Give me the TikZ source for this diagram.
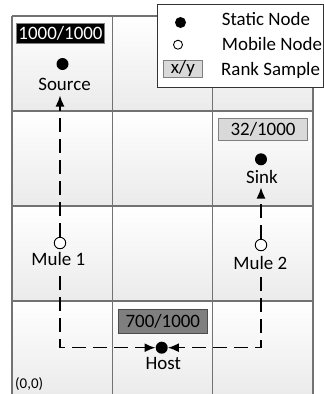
\documentclass[tikz,border=0pt]{standalone}
\usepackage{fontspec}
\setmainfont{Carlito}
\usetikzlibrary{arrows.meta}
\definecolor{gridc}{HTML}{727272}
\definecolor{boxlight}{HTML}{D9D9D9}
\definecolor{boxdark}{HTML}{7F7F7F}
\begin{document}
\begin{tikzpicture}[x=1bp,y=-1bp,
  lbl/.style={font=\fontsize{19}{22}\selectfont, inner sep=0pt},
  small/.style={font=\fontsize{15}{18}\selectfont, inner sep=0pt},
  gridline/.style={draw=gridc, line width=1.3bp},
  dot/.style={circle, fill=black, minimum size=12bp, inner sep=0pt},
  mule/.style={circle, draw=black, fill=white, line width=0.9bp, minimum size=11.5bp, inner sep=0pt},
  rank/.style={rectangle, line width=0.8bp, inner sep=0pt, font=\fontsize{19}{22}\selectfont},
  flow/.style={draw=black, line width=1.5bp, dash pattern=on 14bp off 7bp, -{Latex[length=11bp,width=9bp]}}
]
\useasboundingbox (0,0) rectangle (324,394);
% cells
\def\xs{{12,112.3,212.7,313}}
\def\ys{{16,111,206,301,396}}
\foreach \i in {0,1,2}{
  \foreach \j in {0,1,2,3}{
    \pgfmathsetmacro\xa{\xs[\i]}
    \pgfmathsetmacro\xb{\xs[\i+1]}
    \pgfmathsetmacro\ya{\ys[\j]}
    \pgfmathsetmacro\yb{\ys[\j+1]}
    \shade[top color=white, bottom color=black!8] (\xa,\ya) rectangle (\xb,\yb);
  }
}
% grid lines
\foreach \x in {12,112.3,212.7,313}{\draw[gridline] (\x,16) -- (\x,396);}
\foreach \y in {16,111,206,301}{\draw[gridline] (12,\y) -- (313,\y);}
% legend
\node[draw=black!80, fill=white, line width=0.8bp, minimum width=166.6bp, minimum height=83.3bp, anchor=north west, inner sep=0pt] (legend) at (156.7,4) {};
\node[dot, minimum size=11bp] (ldot) at (180.5,22.5) {};
\node[mule, minimum size=9bp] (lmule) at (178,44.7) {};
\node[rank, fill=boxlight, draw=boxdark, minimum width=39bp, minimum height=17.7bp] (lrank) at (182.8,68.8) {x/y};
\node[lbl, anchor=base west] (lt1) at (221.7,25) {Static Node};
\node[lbl, anchor=base west] (lt2) at (221.7,50) {Mobile Node};
\node[lbl, anchor=base west] (lt3) at (221,75) {Rank Sample};
% rank boxes
\node[rank, fill=black, draw=gray, text=white, minimum width=87.6bp, minimum height=20bp] (r1) at (60.5,33.3) {1000/1000};
\node[rank, fill=boxlight, draw=boxdark, minimum width=89.4bp, minimum height=22.4bp] (r2) at (263,129.5) {32/1000};
\node[rank, fill=boxdark, draw=black!70, minimum width=89bp, minimum height=24bp] (r3) at (162.8,321.3) {700/1000};
% nodes
\node[dot] (src) at (62.5,64) {};
\node[lbl, anchor=base] (srcL) at (64.5,90.5) {Source};
\node[dot] (sink) at (261,159.3) {};
\node[lbl, anchor=base] (sinkL) at (262,183) {Sink};
\node[mule] (m1) at (60,243) {};
\node[lbl, anchor=base] (m1L) at (58.3,265.7) {Mule 1};
\node[mule] (m2) at (261,245) {};
\node[lbl, anchor=base] (m2L) at (260.3,269) {Mule 2};
\node[dot] (host) at (161.7,347.7) {};
\node[lbl, anchor=base] (hostL) at (163.3,369.3) {Host};
\node[small, anchor=base west] (orig) at (15,388) {(0,0)};
% connectors
\coordinate (srcIn) at (60,95.5);
\coordinate (sinkIn) at (261,187.5);
\coordinate (m1out) at (60,276);
\coordinate (m2out) at (261,277);
\draw[flow] (m1) -- (srcIn);
\draw[flow] (m2) -- (sinkIn);
\draw[flow] (m1out) |- (host);
\draw[flow] (m2out) |- (host);
\end{tikzpicture}
\end{document}
